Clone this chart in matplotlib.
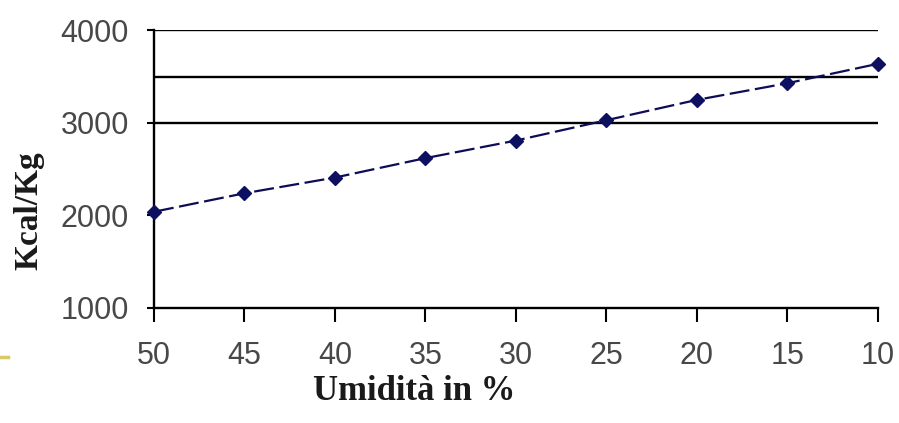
import matplotlib.pyplot as plt
from matplotlib.lines import Line2D

umidita = [50, 45, 40, 35, 30, 25, 20, 15, 10]
kcal = [2040, 2240, 2410, 2620, 2810, 3030, 3250, 3430, 3640]
y_ticks = [1000, 2000, 3000, 4000]
grid_y = [3000, 3500, 4000]

fig = plt.figure(figsize=(8.99, 4.23), dpi=100)
ax = fig.add_axes([0.1713, 0.272, 0.8053, 0.6559])

for g in grid_y:
    ax.axhline(g, color='black', lw=1.7, zorder=1)

ax.plot(umidita, kcal, color='#0d0d55', lw=1.6, dashes=(9, 2.5),
        marker='D', markersize=7, markerfacecolor='#0d1060',
        markeredgecolor='#0d1060', zorder=3, clip_on=False)

ax.set_xlim(50, 10)
ax.set_ylim(1000, 4000)
ax.set_xticks(umidita)
ax.set_yticks(y_ticks)
ax.set_xticklabels([str(v) for v in umidita])
ax.set_yticklabels([str(v) for v in y_ticks])

for s in ['top', 'right']:
    ax.spines[s].set_visible(False)
for s in ['left', 'bottom']:
    ax.spines[s].set_linewidth(1.7)

ax.tick_params(axis='x', direction='out', length=10, width=1.5, pad=14,
               labelsize=22, labelcolor='#484848')
ax.tick_params(axis='y', direction='out', length=5, width=1.5, pad=13,
               labelsize=22, labelcolor='#484848')
for lab in ax.get_xticklabels() + ax.get_yticklabels():
    lab.set_family('Liberation Sans')

ax.set_xlabel('Umidità in %', family='Liberation Serif', fontweight='bold',
              fontsize=25, color='#1a1a1a')
ax.set_ylabel('Kcal/Kg', family='Liberation Serif', fontweight='bold',
              fontsize=24, color='#1a1a1a')
ax.xaxis.set_label_coords(0.36, -0.24)
ax.yaxis.set_label_coords(-0.152, 0.35)

# small yellow mark at the left edge of the slide
fig.add_artist(Line2D([0, 0.009], [1 - 357 / 423, 1 - 357 / 423],
                      color='#d8c868', lw=2.5))

fig.savefig('out.png', dpi=100)
